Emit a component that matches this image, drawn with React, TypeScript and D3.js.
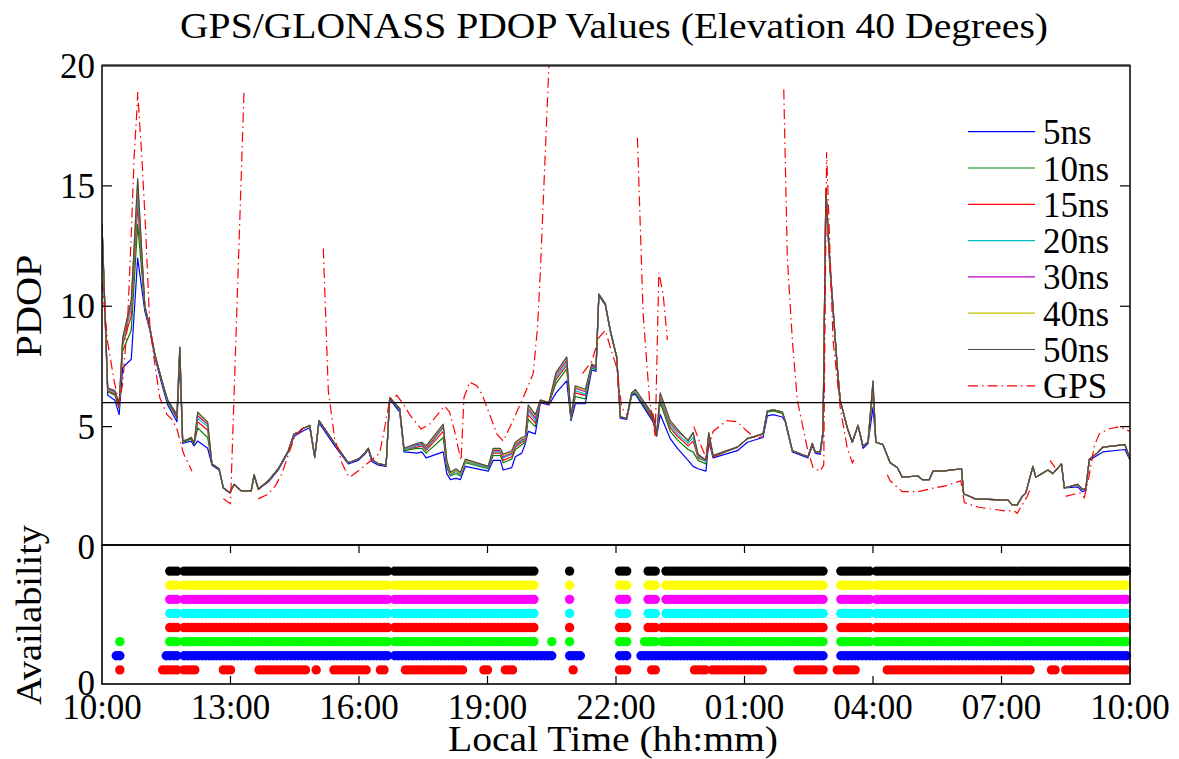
import React from "react";
import * as d3 from "d3";

// ---- PDOP time series (minutes after 10:00 local time) ----
const clockMinutes = [
  0, 8, 18, 24, 29, 41, 50, 60, 67, 74,
  84, 92, 105, 109, 113, 119, 125, 129, 134, 148,
  154, 164, 170, 179, 185, 195, 209, 213, 219, 233,
  247, 261, 269, 275, 280, 291, 298, 304, 326, 345,
  359, 368, 373, 378, 387, 398, 403, 417, 423, 441,
  448, 454, 478, 483, 488, 496, 502, 509, 541, 548,
  558, 562, 574, 579, 588, 593, 597, 607, 614, 626,
  636, 651, 657, 663, 677, 686, 692, 696, 705, 712,
  721, 726, 735, 742, 747, 772, 777, 782, 796, 806,
  821, 828, 835, 846, 850, 856, 890, 904, 926, 932,
  940, 953, 957, 967, 989, 995, 999, 1006, 1010, 1014,
  1020, 1030, 1034, 1044, 1051, 1059, 1066, 1073, 1080, 1084,
  1094, 1104, 1114, 1121, 1143, 1149, 1159, 1164, 1177, 1204,
  1207, 1216, 1223, 1269, 1275, 1282, 1289, 1294, 1304, 1308,
  1325, 1332, 1344, 1348, 1367, 1373, 1378, 1383, 1394, 1402,
  1433, 1440,
];

const pdop5ns = [
  13.3, 6.3, 6.1, 5.5, 7.45, 7.8, 12.0, 9.8, 9.0, 7.9,
  6.75, 5.9, 5.2, 7.7, 4.3, 4.35, 4.4, 4.2, 4.4, 4.1,
  3.4, 3.2, 2.45, 2.25, 2.6, 2.33, 2.33, 2.95, 2.4, 2.7,
  3.2, 3.95, 4.6, 4.7, 4.8, 4.95, 3.7, 5.15, 4.2, 3.45,
  3.6, 3.85, 4.05, 3.55, 3.4, 3.35, 6.15, 5.6, 3.95, 3.9,
  3.95, 3.7, 3.95, 3.05, 2.8, 2.85, 2.8, 3.35, 3.15, 3.6,
  3.6, 3.2, 3.3, 3.75, 3.9, 4.3, 4.8, 4.7, 6.0, 5.9,
  6.4, 6.9, 5.25, 5.95, 5.95, 7.35, 7.3, 10.45, 10.05, 8.95,
  7.85, 5.35, 5.3, 6.3, 6.35, 5.2, 4.6, 5.5, 4.5, 4.1,
  3.6, 3.35, 3.25, 3.15, 4.4, 3.7, 4.0, 4.35, 4.55, 5.45,
  5.5, 5.4, 5.2, 3.95, 3.7, 4.2, 3.9, 3.85, 4.6, 14.5,
  11.4, 7.45, 6.1, 4.95, 4.35, 5.05, 4.1, 4.3, 5.8, 4.35,
  4.25, 3.5, 3.3, 2.9, 2.95, 2.8, 2.8, 3.15, 3.15, 3.25,
  2.2, 2.1, 2.0, 1.95, 1.75, 1.75, 2.1, 2.25, 3.35, 2.9,
  3.2, 3.05, 3.45, 2.45, 2.5, 2.3, 2.35, 3.6, 3.8, 3.95,
  4.05, 3.6,
];

const pdop10ns = [
  13.4, 6.45, 6.3, 5.75, 8.15, 9.0, 13.4, 9.95, 9.1, 8.0,
  6.85, 6.0, 5.35, 8.1, 4.35, 4.4, 4.5, 4.25, 4.95, 4.55,
  3.45, 3.25, 2.45, 2.25, 2.6, 2.33, 2.33, 3.0, 2.4, 2.75,
  3.25, 4.0, 4.7, 4.75, 4.9, 5.05, 3.75, 5.25, 4.3, 3.5,
  3.65, 3.9, 4.1, 3.65, 3.45, 3.4, 6.2, 5.7, 4.0, 4.1,
  4.1, 3.9, 4.55, 3.3, 2.95, 3.05, 2.95, 3.5, 3.25, 3.8,
  3.8, 3.5, 3.65, 4.05, 4.25, 4.35, 5.3, 5.0, 6.05, 5.95,
  6.8, 7.4, 5.3, 6.25, 6.15, 7.45, 7.35, 10.5, 10.1, 9.0,
  7.9, 5.4, 5.35, 6.35, 6.4, 5.3, 4.65, 6.0, 4.8, 4.45,
  4.05, 3.95, 3.6, 3.45, 4.6, 3.75, 4.15, 4.5, 4.7, 5.6,
  5.65, 5.55, 5.25, 4.0, 3.75, 4.3, 3.95, 3.95, 4.8, 14.7,
  11.6, 7.45, 6.1, 4.95, 4.35, 5.05, 4.2, 4.35, 6.5, 4.35,
  4.25, 3.5, 3.3, 2.9, 2.95, 2.8, 2.8, 3.15, 3.15, 3.25,
  2.2, 2.1, 2.0, 1.95, 1.75, 1.75, 2.1, 2.25, 3.35, 2.9,
  3.2, 3.05, 3.45, 2.45, 2.6, 2.4, 2.4, 3.65, 3.9, 4.15,
  4.25, 3.65,
];

const pdop15ns = [
  13.4, 6.5, 6.35, 5.8, 8.4, 9.6, 14.2, 10.0, 9.1, 8.0,
  6.9, 6.05, 5.4, 8.2, 4.4, 4.45, 4.55, 4.3, 5.2, 4.85,
  3.45, 3.25, 2.45, 2.25, 2.6, 2.33, 2.33, 3.0, 2.4, 2.75,
  3.25, 4.0, 4.7, 4.75, 4.9, 5.05, 3.75, 5.25, 4.3, 3.5,
  3.65, 3.9, 4.1, 3.65, 3.45, 3.4, 6.2, 5.75, 4.05, 4.15,
  4.2, 4.0, 4.8, 3.4, 3.0, 3.15, 3.0, 3.55, 3.3, 3.9,
  3.9, 3.6, 3.75, 4.15, 4.35, 4.4, 5.5, 5.15, 6.05, 5.95,
  6.95, 7.55, 5.35, 6.4, 6.3, 7.5, 7.4, 10.5, 10.1, 9.0,
  7.9, 5.4, 5.35, 6.4, 6.45, 5.35, 4.65, 6.15, 4.95, 4.6,
  4.2, 4.4, 3.7, 3.55, 4.65, 3.75, 4.15, 4.5, 4.7, 5.65,
  5.7, 5.6, 5.25, 4.0, 3.75, 4.3, 3.95, 3.95, 4.8, 14.75,
  11.6, 7.45, 6.1, 4.95, 4.35, 5.05, 4.2, 4.35, 6.7, 4.35,
  4.25, 3.5, 3.3, 2.9, 2.95, 2.8, 2.8, 3.15, 3.15, 3.25,
  2.2, 2.1, 2.0, 1.95, 1.75, 1.75, 2.1, 2.25, 3.35, 2.9,
  3.2, 3.05, 3.45, 2.45, 2.6, 2.4, 2.4, 3.65, 3.9, 4.15,
  4.25, 3.65,
];

const pdop20ns = [
  13.4, 6.55, 6.4, 5.85, 8.5, 9.9, 14.6, 10.0, 9.1, 8.0,
  6.9, 6.05, 5.45, 8.25, 4.4, 4.45, 4.55, 4.3, 5.35, 5.0,
  3.45, 3.25, 2.45, 2.25, 2.6, 2.33, 2.33, 3.0, 2.4, 2.75,
  3.25, 4.0, 4.7, 4.75, 4.9, 5.05, 3.75, 5.25, 4.3, 3.5,
  3.65, 3.9, 4.1, 3.65, 3.45, 3.4, 6.2, 5.75, 4.05, 4.2,
  4.25, 4.05, 4.95, 3.45, 3.0, 3.15, 3.0, 3.55, 3.3, 3.95,
  3.95, 3.7, 3.85, 4.2, 4.4, 4.45, 5.65, 5.25, 6.1, 6.0,
  7.05, 7.65, 5.35, 6.5, 6.35, 7.5, 7.4, 10.5, 10.1, 9.0,
  7.9, 5.4, 5.35, 6.4, 6.45, 5.4, 4.7, 6.2, 5.05, 4.7,
  4.3, 4.55, 3.75, 3.55, 4.7, 3.8, 4.15, 4.5, 4.7, 5.65,
  5.7, 5.6, 5.25, 4.0, 3.75, 4.3, 3.95, 3.95, 4.8, 14.8,
  11.6, 7.45, 6.1, 4.95, 4.35, 5.05, 4.2, 4.35, 6.8, 4.35,
  4.25, 3.5, 3.3, 2.9, 2.95, 2.8, 2.8, 3.15, 3.15, 3.25,
  2.2, 2.1, 2.0, 1.95, 1.75, 1.75, 2.1, 2.25, 3.35, 2.9,
  3.2, 3.05, 3.45, 2.45, 2.6, 2.4, 2.4, 3.65, 3.9, 4.15,
  4.25, 3.65,
];

const pdop30ns = [
  13.4, 6.6, 6.45, 5.9, 8.6, 10.1, 15.0, 10.0, 9.1, 8.0,
  6.9, 6.1, 5.45, 8.3, 4.4, 4.45, 4.55, 4.3, 5.45, 5.1,
  3.45, 3.25, 2.45, 2.25, 2.6, 2.33, 2.33, 3.0, 2.4, 2.75,
  3.25, 4.0, 4.7, 4.75, 4.9, 5.05, 3.75, 5.25, 4.3, 3.5,
  3.65, 3.9, 4.1, 3.65, 3.45, 3.4, 6.2, 5.75, 4.1, 4.25,
  4.3, 4.1, 5.0, 3.5, 3.05, 3.2, 3.05, 3.6, 3.35, 4.0,
  4.0, 3.75, 3.9, 4.25, 4.45, 4.5, 5.75, 5.35, 6.1, 6.0,
  7.15, 7.75, 5.4, 6.6, 6.45, 7.55, 7.45, 10.5, 10.1, 9.0,
  7.9, 5.4, 5.35, 6.4, 6.5, 5.45, 4.7, 6.3, 5.15, 4.8,
  4.45, 4.75, 3.8, 3.6, 4.7, 3.8, 4.15, 4.5, 4.7, 5.65,
  5.7, 5.6, 5.25, 4.0, 3.75, 4.3, 3.95, 3.95, 4.8, 14.85,
  11.6, 7.45, 6.1, 4.95, 4.35, 5.05, 4.2, 4.35, 6.85, 4.35,
  4.25, 3.5, 3.3, 2.9, 2.95, 2.8, 2.8, 3.15, 3.15, 3.25,
  2.2, 2.1, 2.0, 1.95, 1.75, 1.75, 2.1, 2.25, 3.35, 2.9,
  3.2, 3.05, 3.45, 2.45, 2.6, 2.4, 2.4, 3.65, 3.9, 4.15,
  4.25, 3.65,
];

const pdop40ns = [
  13.4, 6.6, 6.5, 5.95, 8.65, 10.2, 15.2, 10.0, 9.1, 8.0,
  6.9, 6.1, 5.5, 8.3, 4.4, 4.45, 4.55, 4.3, 5.55, 5.15,
  3.45, 3.25, 2.45, 2.25, 2.6, 2.33, 2.33, 3.0, 2.4, 2.75,
  3.25, 4.0, 4.7, 4.75, 4.9, 5.05, 3.75, 5.25, 4.3, 3.5,
  3.65, 3.9, 4.1, 3.65, 3.45, 3.4, 6.2, 5.75, 4.1, 4.3,
  4.35, 4.15, 5.05, 3.55, 3.05, 3.2, 3.05, 3.6, 3.35, 4.05,
  4.05, 3.8, 3.95, 4.3, 4.5, 4.55, 5.85, 5.45, 6.1, 6.0,
  7.2, 7.85, 5.4, 6.65, 6.5, 7.6, 7.5, 10.5, 10.1, 9.0,
  7.9, 5.4, 5.35, 6.4, 6.5, 5.5, 4.7, 6.35, 5.2, 4.85,
  4.45, 4.75, 3.85, 3.6, 4.75, 3.8, 4.15, 4.5, 4.7, 5.65,
  5.7, 5.6, 5.25, 4.0, 3.75, 4.3, 3.95, 3.95, 4.8, 14.9,
  11.6, 7.45, 6.1, 4.95, 4.35, 5.05, 4.2, 4.35, 6.9, 4.35,
  4.25, 3.5, 3.3, 2.9, 2.95, 2.8, 2.8, 3.15, 3.15, 3.25,
  2.2, 2.1, 2.0, 1.95, 1.75, 1.75, 2.1, 2.25, 3.35, 2.9,
  3.2, 3.05, 3.45, 2.45, 2.6, 2.4, 2.4, 3.65, 3.9, 4.15,
  4.25, 3.65,
];

const pdop50ns = [
  13.4, 6.6, 6.5, 5.95, 8.7, 10.25, 15.3, 10.0, 9.1, 8.0,
  6.9, 6.1, 5.5, 8.3, 4.4, 4.45, 4.55, 4.3, 5.6, 5.2,
  3.45, 3.25, 2.45, 2.25, 2.6, 2.33, 2.33, 3.0, 2.4, 2.75,
  3.25, 4.0, 4.7, 4.75, 4.9, 5.05, 3.75, 5.25, 4.3, 3.5,
  3.65, 3.9, 4.1, 3.65, 3.45, 3.4, 6.2, 5.75, 4.1, 4.3,
  4.35, 4.2, 5.1, 3.6, 3.1, 3.25, 3.1, 3.65, 3.35, 4.1,
  4.1, 3.85, 4.0, 4.35, 4.55, 4.6, 5.9, 5.5, 6.1, 6.0,
  7.25, 7.9, 5.4, 6.7, 6.55, 7.6, 7.5, 10.5, 10.1, 9.0,
  7.9, 5.4, 5.35, 6.4, 6.55, 5.5, 4.7, 6.4, 5.25, 4.9,
  4.4, 4.75, 3.85, 3.6, 4.75, 3.8, 4.15, 4.5, 4.7, 5.65,
  5.7, 5.6, 5.25, 4.0, 3.75, 4.3, 3.95, 3.95, 4.8, 14.9,
  11.6, 7.45, 6.1, 4.95, 4.35, 5.05, 4.2, 4.35, 6.9, 4.35,
  4.25, 3.5, 3.3, 2.9, 2.95, 2.8, 2.8, 3.15, 3.15, 3.25,
  2.2, 2.1, 2.0, 1.95, 1.75, 1.75, 2.1, 2.25, 3.35, 2.9,
  3.2, 3.05, 3.45, 2.45, 2.6, 2.4, 2.4, 3.65, 3.9, 4.15,
  4.25, 3.65,
];

// GPS-only PDOP; null marks epochs without a solution
const gpsMinutes = [
  0, 8, 17, 24, 29, 36, 41, 45, 49, 50, 53, 56, 59, 62, 67, 74, 81, 91, 98, 105, 114, 126, 150,
  170, 180, 199, 208,
  219, 233, 243, 252, 270, 284, 297,
  310, 317, 326, 336, 343, 347, 361, 389, 395, 403, 413, 423, 431, 447, 459, 470, 480, 487, 494,
  499, 503, 507, 515, 525, 533, 543, 553, 562, 571, 590, 604, 610, 614, 626, 650,
  673, 686, 696, 705, 712, 721, 728, 735, 742,
  750, 758, 767, 775, 780, 786, 792, 810,
  829, 838, 846, 856, 875, 890, 902, 916, 925, 940,
  955, 960, 967, 974, 988, 996, 1006, 1011, 1015, 1024, 1034, 1044, 1051, 1055, 1080,
  1100, 1104, 1121, 1143, 1165, 1183, 1203, 1208, 1228, 1265, 1278, 1282, 1289, 1296, 1300, 1315,
  1328, 1335, 1342,
  1350, 1362, 1370, 1376, 1383, 1390, 1397, 1410, 1425, 1440,
];
const gpsPdop: (number | null)[] = [
  11.0, 8.5, 6.9, 5.9, 6.8, 9.5, 13.0, 16.2, 18.2, 18.9, 17.5, 16.1, 14.4, 12.6, 9.2, 7.6, 6.2, 5.5, 5.3, 4.9, 3.9, 3.15, null,
  2.0, 1.8, 19.0, null,
  2.0, 2.2, 2.55, 3.05, 4.6, 5.0, null,
  12.4, 6.5, 4.5, 3.5, 3.05, 2.9, 3.2, 3.9, 4.8, 6.1, 6.3, 5.9, 5.5, 4.9, 5.1, 5.5, 5.85, 5.6, 4.8,
  4.1, 3.6, 6.2, 6.85, 6.7, 6.3, 5.5, 4.7, 4.4, 4.95, 6.2, 7.2, 9.1, 11.4, 20.0, null,
  7.2, 7.7, 8.7, 9.0, 8.3, 7.45, 5.8, 5.5, null,
  17.0, 9.7, 6.1, 4.6, 11.4, 10.5, 8.6, null,
  5.0, 4.3, 3.7, 4.8, 5.25, 5.2, 4.85, 4.5, 4.6, null,
  19.0, 12.0, 8.6, 6.1, 4.1, 3.3, 3.15, 3.4, 16.4, 8.6, 5.8, 4.1, 3.5, 3.7, null,
  3.0, 2.75, 2.3, 2.3, 2.45, 2.55, 2.75, 1.85, 1.65, 1.5, 1.5, 1.4, 1.75, 2.1, 2.4, null,
  3.6, 3.3, null,
  2.1, 2.2, 2.25, 2.05, 3.0, 4.2, 4.7, 4.9, 5.0, 4.8,
];

// Availability windows [first, last] in minutes after 10:00, sampled every 5 minutes
const availGps = [
  [25, 25], [85, 105], [115, 130], [170, 180], [220, 285], [300, 300], [325, 370], [390, 395],
  [425, 505], [535, 540], [565, 575], [660, 660], [725, 735], [770, 775], [830, 845], [855, 925],
  [975, 1010], [1030, 1055], [1100, 1300], [1330, 1335], [1350, 1435],
];
const avail5ns = [[20, 25], [90, 105], [115, 400], [410, 630], [655, 670], [725, 735], [755, 1010], [1035, 1435]];
const avail10ns = [[25, 25], [95, 105], [115, 400], [410, 605], [630, 630], [655, 655], [725, 735], [760, 775], [785, 1010], [1035, 1075], [1085, 1435]];
const avail15ns = [[95, 105], [115, 400], [410, 605], [655, 655], [725, 735], [765, 775], [785, 1010], [1035, 1075], [1085, 1435]];
const avail20ns = [[95, 105], [115, 400], [410, 605], [655, 655], [725, 735], [765, 775], [790, 1010], [1035, 1075], [1085, 1435]];
const avail30ns = [[95, 105], [115, 400], [410, 605], [655, 655], [725, 735], [765, 775], [790, 1010], [1035, 1075], [1085, 1435]];
const avail40ns = [[95, 105], [115, 400], [410, 605], [655, 655], [725, 735], [765, 775], [790, 1010], [1035, 1075], [1085, 1435]];
const avail50ns = [[95, 105], [115, 400], [410, 605], [655, 655], [725, 735], [765, 775], [790, 1010], [1035, 1075], [1085, 1435]];

const seriesLabels = ["5ns", "10ns", "15ns", "20ns", "30ns", "40ns", "50ns"];
const seriesColors = ["#0000ff", "#008000", "#ff0000", "#00bfbf", "#bf00bf", "#bfbf00", "#4a4a4a"];
const seriesValues = [pdop5ns, pdop10ns, pdop15ns, pdop20ns, pdop30ns, pdop40ns, pdop50ns];

const availRows = [availGps, avail5ns, avail10ns, avail15ns, avail20ns, avail30ns, avail40ns, avail50ns];
const availColors = ["#ff0000", "#0000ff", "#00ff00", "#ff0000", "#00ffff", "#ff00ff", "#ffff00", "#000000"];

const timeTickMinutes = [0, 180, 360, 540, 720, 900, 1080, 1260, 1440];
const timeTickLabels = ["10:00", "13:00", "16:00", "19:00", "22:00", "01:00", "04:00", "07:00", "10:00"];
const pdopTicks = [0, 5, 10, 15, 20];
const pdopThreshold = 6;

const FONT = "'Liberation Serif', 'Times New Roman', serif";

export default function App() {
  const left = 102;
  const right = 1130;
  const topY = 65.5;
  const midY = 545;
  const botY = 684;

  const x = d3.scaleLinear().domain([0, 1440]).range([left, right]);
  const yTop = d3.scaleLinear().domain([0, 20]).range([547, topY]);
  const yBot = d3.scaleLinear().domain([0, 9.85]).range([botY, midY]);

  const line = d3
    .line<[number, number | null]>()
    .defined((d) => d[1] !== null)
    .x((d) => x(d[0]))
    .y((d) => yTop(d[1] as number));

  const seriesPaths = seriesValues.map((vals) =>
    line(clockMinutes.map((m, i) => [m, vals[i]] as [number, number | null]))
  );
  const gpsPath = line(gpsMinutes.map((m, i) => [m, gpsPdop[i]] as [number, number | null]));

  const dots: { cx: number; cy: number; fill: string; key: string }[] = [];
  availRows.forEach((intervals, r) => {
    intervals.forEach(([a, b]) => {
      for (let m = a; m <= b; m += 5) {
        dots.push({ cx: x(m), cy: yBot(r + 1), fill: availColors[r], key: `${r}-${m}` });
      }
    });
  });

  const legendX0 = 968;
  const legendX1 = 1035;
  const legendY0 = 131.7;
  const legendStep = 36.3;
  const legendLabels = [...seriesLabels, "GPS"];
  const legendColors = [...seriesColors, "#ff0000"];

  return (
    <svg
      width={1179}
      height={759}
      style={{ display: "block", background: "#fff", position: "absolute", left: 0, top: 0 }}
      fontFamily={FONT}
    >
      <defs>
        <clipPath id="topClip">
          <rect x={left} y={topY} width={right - left} height={midY - topY} />
        </clipPath>
      </defs>

      {/* title */}
      <text x={614} y={38} fontSize={35} textAnchor="middle" textLength={868} lengthAdjust="spacingAndGlyphs">
        GPS/GLONASS PDOP Values (Elevation 40 Degrees)
      </text>

      {/* PDOP series */}
      <g clipPath="url(#topClip)">
        {seriesPaths.map((d, i) => (
          <path key={seriesLabels[i]} d={d || ""} fill="none" stroke={seriesColors[i]} strokeWidth={1.2} strokeLinejoin="round" />
        ))}
        <path d={gpsPath || ""} fill="none" stroke="#ff0000" strokeWidth={1.2} strokeDasharray="10,4,1.5,4" />
      </g>

      {/* threshold line */}
      <line x1={left} x2={right} y1={yTop(pdopThreshold)} y2={yTop(pdopThreshold)} stroke="#000" strokeWidth={1.3} />

      {/* availability markers */}
      <g>
        {dots.map((d) => (
          <circle key={d.key} cx={d.cx} cy={d.cy} r={4.7} fill={d.fill} />
        ))}
      </g>

      {/* frames */}
      <rect x={left} y={topY} width={right - left} height={midY - topY} fill="none" stroke="#000" strokeWidth={1.5} />
      <line x1={left} x2={right} y1={topY} y2={topY} stroke="#222" strokeWidth={2} />
      <rect x={left} y={midY} width={right - left} height={botY - midY} fill="none" stroke="#000" strokeWidth={1.6} />

      {/* PDOP ticks */}
      {pdopTicks.slice(1, 4).map((t) => (
        <g key={`yt${t}`}>
          <line x1={left} x2={left + 10} y1={yTop(t)} y2={yTop(t)} stroke="#000" strokeWidth={1.2} />
          <line x1={right - 10} x2={right} y1={yTop(t)} y2={yTop(t)} stroke="#000" strokeWidth={1.2} />
        </g>
      ))}
      {pdopTicks.map((t) => (
        <text key={`yl${t}`} x={95} y={yTop(t) + 12} fontSize={35} textAnchor="end">
          {t}
        </text>
      ))}
      <text x={95} y={yBot(0) + 11} fontSize={35} textAnchor="end">
        0
      </text>

      {/* time ticks */}
      {timeTickMinutes.slice(1, -1).map((m) => (
        <g key={`xt${m}`}>
          <line x1={x(m)} x2={x(m)} y1={midY} y2={midY + 8} stroke="#000" strokeWidth={1.2} />
          <line x1={x(m)} x2={x(m)} y1={botY} y2={botY - 8} stroke="#000" strokeWidth={1.2} />
        </g>
      ))}
      {timeTickMinutes.map((m, i) => (
        <text key={`xl${i}`} x={x(m)} y={719} fontSize={35} textAnchor="middle">
          {timeTickLabels[i]}
        </text>
      ))}

      {/* axis titles */}
      <text x={613} y={751} fontSize={35} textAnchor="middle" textLength={330} lengthAdjust="spacingAndGlyphs">
        Local Time (hh:mm)
      </text>
      <text transform="translate(41,306) rotate(-90)" fontSize={35} textAnchor="middle" textLength={103} lengthAdjust="spacingAndGlyphs">
        PDOP
      </text>
      <text transform="translate(41,615) rotate(-90)" fontSize={35} textAnchor="middle" textLength={180} lengthAdjust="spacingAndGlyphs">
        Availability
      </text>

      {/* legend */}
      {legendLabels.map((lab, i) => {
        const ly = legendY0 + i * legendStep;
        return (
          <g key={`lg${lab}`}>
            <line
              x1={legendX0}
              x2={legendX1}
              y1={ly}
              y2={ly}
              stroke={legendColors[i]}
              strokeWidth={1.2}
              strokeDasharray={lab === "GPS" ? "10,4,1.5,4" : undefined}
            />
            <text x={1043} y={ly + 12.5} fontSize={35}>
              {lab}
            </text>
          </g>
        );
      })}
    </svg>
  );
}
